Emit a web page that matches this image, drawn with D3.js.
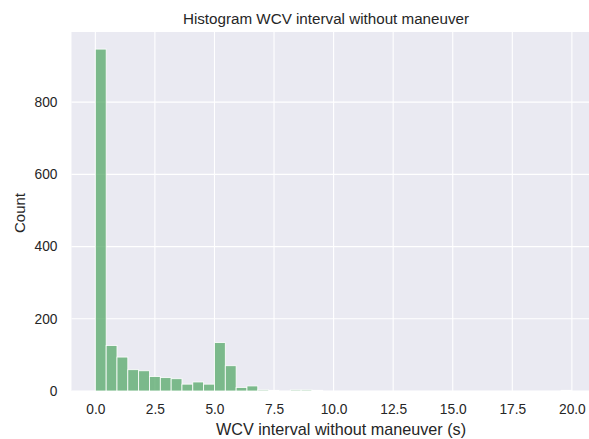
<!DOCTYPE html>
<html>
<head>
<meta charset="utf-8">
<script src="https://cdn.jsdelivr.net/npm/d3@7"></script>
<style>
  html, body { margin: 0; padding: 0; background: #ffffff; }
  svg { display: block; font-family: "Liberation Sans", Arial, sans-serif; }
</style>
</head>
<body>
<svg id="chart" width="589" height="439"></svg>
<script>
// Histogram of WCV interval without maneuver: 44 equal bins over [0, 20] s
const binStart = 0;
const binEnd = 20;
const binCounts = [
  947, 126, 94, 59, 56, 40, 37, 34, 19, 25, 19,
  134, 70, 10, 14, 3, 2, 0, 3, 3, 2, 0,
  0, 0, 0, 0, 0, 0, 0, 0, 0, 0, 0,
  0, 0, 0, 0, 0, 0, 0, 0, 0, 0, 2
];
const xTicks = [0, 2.5, 5, 7.5, 10, 12.5, 15, 17.5, 20];
const yTicks = [0, 200, 400, 600, 800];
const titleText = "Histogram WCV interval without maneuver";
const xLabel = "WCV interval without maneuver (s)";
const yLabel = "Count";

const svg = d3.select("#chart");
const panel = { left: 71.5, top: 32, right: 595.7, bottom: 391 };

const binWidth = (binEnd - binStart) / binCounts.length;
const bins = binCounts.map((c, i) => ({
  x0: binStart + i * binWidth,
  x1: binStart + (i + 1) * binWidth,
  count: c
}));

const x = d3.scaleLinear().domain([-1, 21]).range([panel.left, panel.right]);
const yMax = d3.max(binCounts) * 1.05;
const y = d3.scaleLinear().domain([0, yMax]).range([panel.bottom, panel.top]);

// plot background
svg.append("rect")
  .attr("x", panel.left).attr("y", panel.top)
  .attr("width", panel.right - panel.left)
  .attr("height", panel.bottom - panel.top)
  .attr("fill", "#eaeaf2");

// grid lines
const grid = svg.append("g").attr("stroke", "#ffffff").attr("stroke-width", 1.1);
grid.selectAll(".gx").data(xTicks).join("line")
  .attr("x1", d => x(d)).attr("x2", d => x(d))
  .attr("y1", panel.top).attr("y2", panel.bottom);
grid.selectAll(".gy").data(yTicks).join("line")
  .attr("x1", panel.left).attr("x2", panel.right)
  .attr("y1", d => y(d)).attr("y2", d => y(d));

// bars
svg.append("g").selectAll("rect").data(bins).join("rect")
  .attr("x", d => x(d.x0))
  .attr("y", d => y(d.count))
  .attr("width", d => x(d.x1) - x(d.x0))
  .attr("height", d => y(0) - y(d.count))
  .attr("fill", "#55a868")
  .attr("fill-opacity", 0.75)
  .attr("stroke", "#ffffff")
  .attr("stroke-width", 0.8);

// axes (labels only, no tick marks or domain line)
const fmt = d3.format(".1f");
const xAxis = svg.append("g")
  .attr("transform", `translate(0,${panel.bottom})`)
  .call(d3.axisBottom(x).tickValues(xTicks).tickFormat(fmt).tickSize(0).tickPadding(13));
const yAxis = svg.append("g")
  .attr("transform", `translate(${panel.left},0)`)
  .call(d3.axisLeft(y).tickValues(yTicks).tickFormat(d3.format("d")).tickSize(0).tickPadding(14));
[xAxis, yAxis].forEach(a => {
  a.select(".domain").remove();
  a.selectAll("text")
    .attr("fill", "#262626")
    .style("font-size", "13.75px")
    .style("font-family", '"Liberation Sans", Arial, sans-serif');
});

// title and axis labels
svg.append("text")
  .attr("x", 326).attr("y", 24)
  .attr("text-anchor", "middle")
  .attr("fill", "#262626")
  .style("font-size", "15.2px")
  .text(titleText);

svg.append("text")
  .attr("x", 341).attr("y", 435)
  .attr("text-anchor", "middle")
  .attr("fill", "#262626")
  .style("font-size", "16.2px")
  .text(xLabel);

svg.append("text")
  .attr("transform", "translate(25,213) rotate(-90)")
  .attr("text-anchor", "middle")
  .attr("fill", "#262626")
  .style("font-size", "15px")
  .text(yLabel);
</script>
</body>
</html>
